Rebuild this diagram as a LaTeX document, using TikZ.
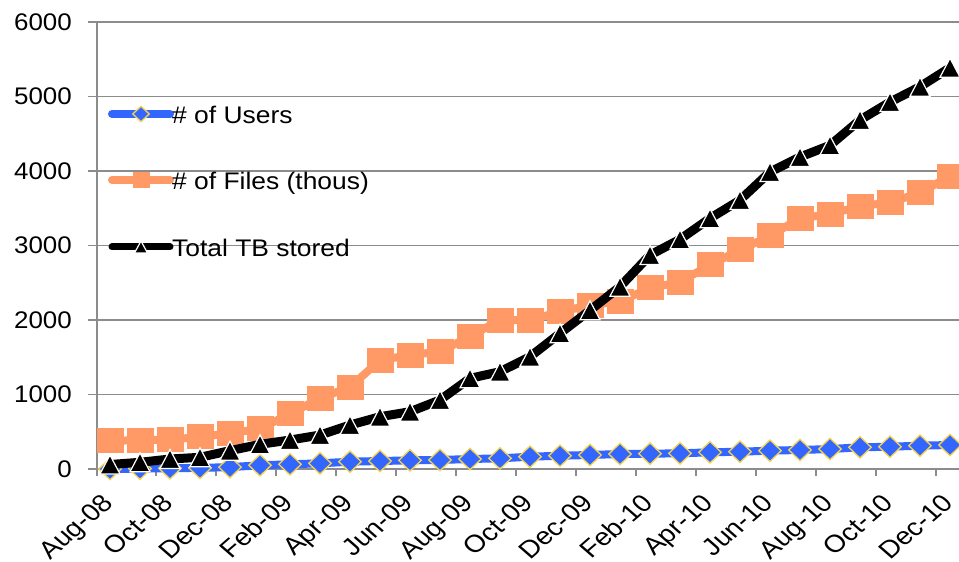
\documentclass[tikz,border=0pt]{standalone}
\usepackage{fontspec}
\setmainfont{Liberation Sans}
\usepackage{xcolor}
\definecolor{UserBlue}{HTML}{3366FF}
\definecolor{UserGold}{HTML}{F7D54A}
\definecolor{FileOrange}{HTML}{FF9966}
\definecolor{GridGray}{HTML}{8C8C8C}
\usepackage{tikz}
\usetikzlibrary{shapes.geometric}
\newcommand{\chartfont}{\fontsize{24}{28}\selectfont}
\newcommand{\monthfont}{\fontsize{24.5}{29}\selectfont}

\begin{document}
\begin{tikzpicture}[x=1pt,y=1pt,
gridline/.style={draw=GridGray,line width=1.3pt},
ylab/.style={anchor=east,inner sep=0pt,font=\chartfont,xscale=1.08},
xlab/.style={anchor=base east,inner sep=0pt,font=\monthfont,xscale=1.15,rotate=45},
legtext/.style={anchor=base west,inner sep=0pt,font=\chartfont,xscale=1.1},
userline/.style={draw=UserBlue,line width=8pt,line join=round},
fileline/.style={draw=FileOrange,line width=8pt,line join=round},
tbline/.style={draw=black,line width=9pt,line join=round},
usermark/.style={diamond,draw=UserGold,fill=UserBlue,line width=1.3pt,inner sep=0pt,minimum width=23pt,minimum height=22pt},
filemark/.style={rectangle,fill=FileOrange,inner sep=0pt,minimum width=27pt,minimum height=25pt},
trimark/.style={fill=black,draw=white,line width=1.2pt,line join=miter}]
\useasboundingbox (0,0) rectangle (959,562);

% gridlines and value labels
\foreach \v in {0,1000,...,6000}
  \draw[gridline] (88,{93+0.0745*\v}) -- (959,{93+0.0745*\v});
\foreach \v in {0,1000,...,6000}
  \node[ylab] (y\v) at (72,{93+0.0745*\v}) {\v};
\draw[gridline] (97,86) -- (97,540);
\foreach \k in {1,...,14}
  \draw[gridline] ({96+60*\k},93) -- ({96+60*\k},86);

% month labels
\foreach \m [count=\k from 0] in {Aug-08,Oct-08,Dec-08,Feb-09,Apr-09,Jun-09,Aug-09,Oct-09,Dec-09,Feb-10,Apr-10,Jun-10,Aug-10,Oct-10,Dec-10}
  \node[xlab] (m\k) at ({114.5+60*\k},57.5) {\m};

% data points
\foreach \v [count=\i from 0] in {0,5,10,15,25,50,63,76,98,107,116,121,134,143,165,178,188,201,206,210,224,232,246,255,268,291,299,313,322}
  \coordinate (u\i) at ({110+30*\i},{93+0.0745*\v});
\foreach \v [count=\i from 0] in {380,385,395,430,480,540,740,950,1100,1460,1530,1575,1780,2000,2000,2110,2200,2250,2430,2510,2740,2940,3130,3365,3420,3530,3575,3710,3930}
  \coordinate (f\i) at ({110+30*\i},{93+0.0745*\v});
\foreach \v [count=\i from 0] in {60,90,134,157,246,331,389,456,590,702,769,926,1217,1306,1507,1821,2130,2447,2872,3083,3365,3610,3987,4188,4345,4685,4926,5132,5387}
  \coordinate (t\i) at ({110+30*\i},{93+0.0745*\v});

% series
\draw[userline] (u0) \foreach \i in {1,...,28} {-- (u\i)};
\foreach \i in {0,...,28} \node[usermark] (um\i) at (u\i) {};
\draw[fileline] (f0) \foreach \i in {1,...,28} {-- (f\i)};
\foreach \i in {0,...,28} \node[filemark] (fm\i) at (f\i) {};
\draw[tbline] (t0) \foreach \i in {1,...,28} {-- (t\i)};
\foreach \i in {0,...,28} \filldraw[trimark] (t\i) ++(-10,-9.5) -- ++(20,0) -- ++(-10,19) -- cycle;

% legend
\coordinate (lu) at (141,448);
\coordinate (lf) at (141,382);
\coordinate (lt) at (141,315);
\draw[userline,line cap=round] ([xshift=-29pt]lu) -- ([xshift=29pt]lu);
\node[usermark,minimum width=17pt,minimum height=16pt] (lum) at (lu) {};
\node[legtext] (lut) at (172,438) {\# of Users};
\draw[fileline,line cap=round] ([xshift=-29pt]lf) -- ([xshift=29pt]lf);
\node[filemark,minimum width=17pt,minimum height=16pt] (lfm) at (lf) {};
\node[legtext] (lft) at (172,372) {\# of Files (thous)};
\draw[tbline,line width=7pt,line cap=round] ([xshift=-29pt]lt) -- ([xshift=29pt]lt);
\filldraw[trimark] (lt) ++(-6.5,-6) -- ++(13,0) -- ++(-6.5,12) -- cycle;
\node[legtext] (ltt) at (172,305) {Total TB stored};
\end{tikzpicture}
\end{document}
